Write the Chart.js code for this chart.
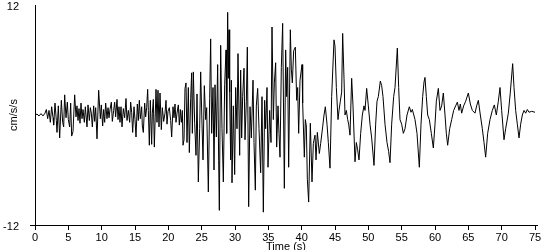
<!DOCTYPE html>
<html lang="en">
<head>
  <meta charset="UTF-8">
  <title>Accelerogram</title>
  <style>
    body { margin: 0; background: #ffffff; }
    #wrap { width: 550px; height: 250px; }
  </style>
</head>
<body>
  <div id="wrap"><canvas id="accelChart" width="550" height="250"></canvas></div>

  <script src="https://cdn.jsdelivr.net/npm/chart.js@4.4.1/dist/chart.umd.min.js"></script>
  <script>
    // Time of each turning point on the trace (s)
    const timeS = [
      0, 0.3, 0.6, 0.9, 1.2, 1.5, 1.7, 1.9, 2.1, 2.3, 2.5, 2.7, 2.8, 3.0, 3.2, 3.3, 3.5, 3.7, 3.95, 4.15, 4.3, 4.45, 4.65, 4.85,
      5.0, 5.2, 5.35, 5.5, 5.7, 5.95, 6.15, 6.3, 6.45, 6.6, 6.75, 6.9, 7.05, 7.2, 7.4, 7.55, 7.8, 7.95, 8.15, 8.3, 8.45, 8.6, 8.8, 8.95, 9.1, 9.3, 9.55, 9.8, 9.95,
      10.15, 10.3, 10.45, 10.6, 10.8, 10.95, 11.1, 11.25, 11.45, 11.6, 11.8, 11.95, 12.1, 12.3, 12.45, 12.6, 12.75, 12.9, 13.05, 13.25, 13.45, 13.65, 13.8, 14.0, 14.2, 14.35, 14.5, 14.65, 14.85,
      15.0, 15.15, 15.35, 15.5, 15.65, 15.8, 16.0, 16.1, 16.25, 16.45, 16.6, 16.75, 16.9, 17.0, 17.15, 17.3, 17.5, 17.6, 17.75, 17.9, 18.15, 18.3, 18.45, 18.6, 18.75, 18.95, 19.1, 19.3, 19.5, 19.65, 19.8, 19.95,
      20.15, 20.35, 20.5, 20.7, 20.85, 21.0, 21.15, 21.3, 21.5, 21.65, 21.8, 21.95, 22.1, 22.2, 22.35, 22.5, 22.65, 22.8, 23.0, 23.15, 23.35, 23.5, 23.6, 23.75, 23.95, 24.15, 24.3, 24.5, 24.7, 24.85,
      25.05, 25.2, 25.4, 25.6, 25.75, 26.0, 26.2, 26.35, 26.5, 26.7, 26.85, 27.0, 27.2, 27.4, 27.55, 27.65, 27.85, 28.05, 28.25, 28.45, 28.65, 28.75, 28.9, 29.0, 29.1, 29.2, 29.35, 29.45, 29.55, 29.75, 29.95,
      30.1, 30.3, 30.45, 30.7, 30.85, 31.0, 31.15, 31.35, 31.5, 31.7, 31.85, 32.05, 32.25, 32.45, 32.7, 32.85, 33.05, 33.2, 33.4, 33.6, 33.85, 34.05, 34.25, 34.45, 34.6, 34.8, 34.95,
      35.2, 35.4, 35.55, 35.75, 35.9, 36.1, 36.25, 36.45, 36.6, 36.75, 36.95, 37.15, 37.4, 37.6, 37.75, 37.9, 38.05, 38.3, 38.45, 38.6, 38.8, 39.05, 39.25, 39.4, 39.55, 39.75,
      40.05, 40.15, 40.4, 40.55, 40.7, 40.85, 41.05, 41.3, 41.55, 41.75, 42.0, 42.15, 42.35, 42.65, 42.85, 43.15, 43.35, 43.55, 43.8, 44.0, 44.25, 44.5, 44.85,
      45.0, 45.2, 45.45, 45.6, 45.8, 46.0, 46.15, 46.35, 46.5, 46.7, 46.9, 47.05, 47.25, 47.5, 47.7, 48.0, 48.2, 48.4, 48.6, 48.85, 49.1, 49.35, 49.5, 49.75,
      50.0, 50.25, 50.5, 50.85, 51.1, 51.3, 51.5, 51.8, 52.0, 52.2, 52.5, 52.8, 53.05, 53.25, 53.5, 53.8, 54.0, 54.35, 54.55, 54.75,
      55.0, 55.25, 55.5, 55.8, 56.15, 56.4, 56.6, 57.0, 57.3, 57.65, 57.9, 58.15, 58.35, 58.5, 58.7, 58.9, 59.15, 59.45, 59.75,
      60.0, 60.2, 60.5, 60.75, 61.0, 61.25, 61.5, 61.7, 61.9, 62.2, 62.5, 62.8, 63.1, 63.35, 63.6, 63.8, 64.0, 64.3, 64.6,
      65.0, 65.3, 65.6, 66.0, 66.25, 66.5, 66.8, 67.1, 67.35, 67.6, 67.9, 68.25, 68.6, 68.9, 69.2, 69.5, 69.75,
      70.0, 70.35, 70.6, 71.0, 71.3, 71.65, 71.85, 72.1, 72.35, 72.6, 72.85, 73.1, 73.35, 73.6, 73.85, 74.1, 74.5, 75.0
    ];

    // Acceleration at each of those times (cm/s/s)
    const accel = [
      0, 0.1, -0.1, 0.15, -0.1, 0.2, 0.6, -0.4, 0.5, -0.8, 0.9, -0.3, -1.1, 1.3, -0.6, -1.9, 1.0, -2.5, 1.6, -0.8, -1.3, 2.2, -0.3, 1.4,
      -0.5, -1.3, 1.3, -2.3, -1.8, 2.2, -0.2, 1.0, -0.6, 0.7, -0.9, 1.3, -0.4, 0.6, -0.8, 0.9, -1.3, 1.1, -0.6, 0.8, 0.2, -1.3, 1.0, -0.7, 0.8, -2.6, 2.7, -0.4, 1.1,
      -1.2, 0.6, -0.8, 1.3, -0.4, 0.8, -0.3, 0.6, 1.4, -0.7, 0.5, 1.4, -0.2, 1.7, -0.5, 0.9, -0.8, 0.9, -1.3, 0.7, -0.3, 1.8, -0.6, 0.5, -0.8, 1.4, 0.3, -1.9, 0.9,
      -0.5, -2.4, 1.2, -0.6, 1.6, -0.4, 0.9, -1.2, -1.9, 1.3, -0.2, 0.8, 2.8, 0.5, -3.3, 1.6, -3.2, 0.2, 1.7, -3.5, 2.8, -0.8, 2.7, -1.3, 2.4, -1.6, 0.8, -0.7, 0.2, 1.6, -1.0, 0.4,
      0.8, -0.6, -2.4, 0.9, -0.3, 1.2, -0.8, 0.2, 1.1, -1.1, 0.6, -0.8, 0.5, -3.3, -2.7, 2.9, 3.5, -3.0, 3.0, -4.1, 1.8, 4.6, -2.0, 4.7, -0.9, -4.4, 2.3, -7.3, -1.5, 4.7,
      -1.0, -4.9, 3.2, -0.5, 0.8, -8.4, 1.8, 8.3, -2.0, 3.0, -6.0, 3.3, -2.4, 5.5, -5.0, -10.4, 7.6, -1.5, -7.3, 3.3, 7.1, -2.0, 11.2, 4.0, 9.3, 2.5, -4.9, 3.8, -7.4, 1.0, -6.5,
      3.0, -1.5, 6.7, -4.4, 4.9, -2.5, 2.0, 5.1, -2.7, 1.5, 7.4, -10.0, 0.9, -2.5, 3.8, -3.0, -8.2, 1.0, 2.9, -1.5, -6.3, 2.0, -10.6, 1.6, -1.5, 3.0, -5.7,
      0.5, -3.0, 9.6, -0.5, 3.5, 5.7, -3.5, 1.0, -2.0, -4.6, 5.2, 10.0, -8.0, 7.1, 2.0, 5.2, -5.7, 9.3, 5.0, 3.5, 7.0, 7.4, 1.6, 3.0, -2.0, 3.8,
      5.5, 1.3, -4.6, -0.5, -1.2, -7.0, -9.5, -0.9, -7.3, -3.1, -2.2, -4.9, -1.9, -4.2, -3.1, -1.3, 0.0, 0.9, -1.0, -3.0, -5.8, 2.0, 8.2,
      7.5, 3.0, -0.5, 0.5, 1.5, 2.5, 8.9, 4.0, 0.0, 0.5, -0.5, -1.0, -2.2, 4.0, 1.0, -5.1, -3.0, -3.8, -4.9, -2.0, 0.0, 1.0, 0.5, 2.9,
      1.0, -1.0, -2.5, -5.5, -1.0, 1.5, 2.0, 3.7, 3.2, 2.0, -1.0, -3.0, -4.0, -5.2, -1.0, 2.0, 3.0, 7.3, 3.0, -0.5,
      -1.0, -2.0, -1.5, 0.0, 0.9, 0.3, 0.6, -0.5, -2.0, -5.7, -1.0, 2.0, 3.6, 4.1, 2.0, 0.0, -0.5, -2.0, -3.6,
      -1.0, 1.5, 2.9, 0.5, 1.0, 2.4, 0.0, -2.0, -3.3, -1.5, -0.5, 0.5, 1.0, 1.4, 0.5, 1.2, 0.2, 1.0, 1.5,
      2.4, 1.2, 0.5, 0.2, 1.0, 1.6, 0.0, -1.5, -3.0, -4.6, -2.0, -0.5, 0.5, 1.1, 0.0, 1.5, 3.0,
      0.5, -2.7, -1.5, 0.2, 2.5, 5.6, 3.0, 0.5, -1.0, -2.5, -1.0, 0.0, 0.5, 0.2, 0.6, 0.3, 0.4, 0.3
    ];

    // Axis ticks
    const xTicks = [0, 5, 10, 15, 20, 25, 30, 35, 40, 45, 50, 55, 60, 65, 70, 75];
    const yTicks = [-12, 12];

    const tickFont = { family: "'Liberation Sans Narrow', 'Liberation Sans', Arial, sans-serif", size: 11 };

    const points = timeS.map((t, i) => ({ x: t, y: accel[i] }));

    new Chart(document.getElementById('accelChart'), {
      type: 'line',
      data: {
        datasets: [{
          data: points,
          borderColor: '#000000',
          borderWidth: 1,
          pointRadius: 0,
          tension: 0,
          fill: false
        }]
      },
      options: {
        responsive: false,
        animation: false,
        events: [],
        layout: { padding: { left: 0, right: 13, top: 5, bottom: 0 } },
        plugins: { legend: { display: false }, tooltip: { enabled: false } },
        scales: {
          x: {
            type: 'linear',
            min: 0,
            max: 75.3,
            afterBuildTicks: (s) => { s.ticks = xTicks.map(v => ({ value: v })); },
            afterFit: (s) => { s.height = 25; s.paddingLeft = 0; s.paddingRight = 0; },
            grid: { drawOnChartArea: false, color: '#000000', tickLength: 5 },
            border: { color: '#000000', width: 1 },
            ticks: { color: '#000000', font: tickFont, padding: 1, maxRotation: 0, autoSkip: false },
            title: {
              display: true, text: 'Time (s)', color: '#000000',
              font: { family: tickFont.family, size: 11, lineHeight: 1 },
              padding: { top: 0, bottom: -2 }
            }
          },
          y: {
            min: -12,
            max: 12,
            afterBuildTicks: (s) => { s.ticks = yTicks.map(v => ({ value: v })); },
            afterFit: (s) => { s.width = 35; s.paddingTop = 0; s.paddingBottom = 0; },
            grid: {
              drawOnChartArea: false,
              tickLength: 5,
              color: (c) => (c.tick && c.tick.value === -12 ? '#000000' : 'rgba(0,0,0,0)')
            },
            border: { color: '#000000', width: 1 },
            ticks: { color: '#000000', font: tickFont, padding: 11, labelOffset: 2 },
            title: {
              display: true, text: 'cm/s/s', color: '#000000',
              font: { family: tickFont.family, size: 11, lineHeight: 1 },
              padding: { top: 8, bottom: 0 }
            }
          }
        }
      }
    });
  </script>
</body>
</html>
